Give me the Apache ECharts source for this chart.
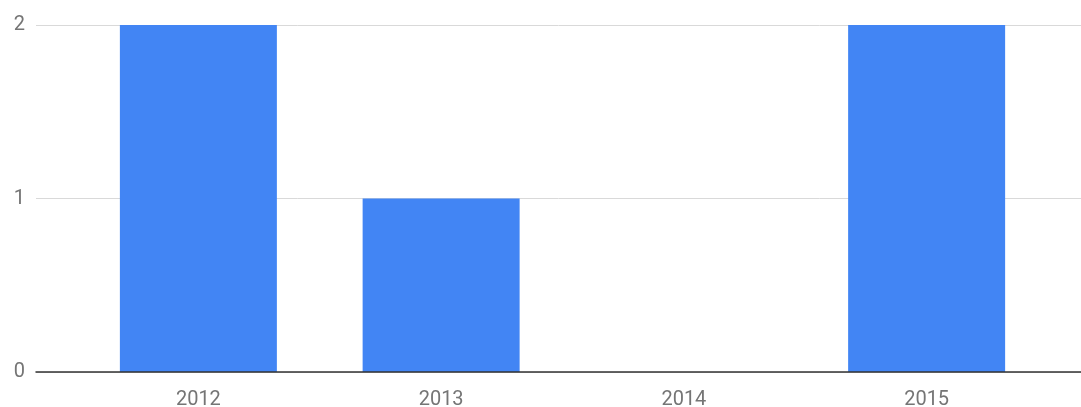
<!DOCTYPE html>
<html>
<head>
<meta charset="utf-8">
<style>
  html, body { margin: 0; padding: 0; background: #ffffff; }
  #chart { width: 1081px; height: 407px; }
</style>
<script src="https://cdn.jsdelivr.net/npm/echarts@6/dist/echarts.min.js"></script>
</head>
<body>
<div id="chart"></div>
<script>
// Yearly counts
const years = ['2012', '2013', '2014', '2015'];
const counts = [2, 1, 0, 2];
const yTicks = [0, 1, 2];

const chart = echarts.init(document.getElementById('chart'));
const fontFamily = 'Roboto, "Noto Sans", sans-serif';

chart.setOption({
  animation: false,
  grid: [
    // full-width frame: gridlines, value labels and baseline
    { left: 36, right: 0, top: 25, bottom: 35, outerBoundsMode: 'none', containLabel: false },
    // inset band area holding the bars
    { left: 77, right: 33, top: 25, bottom: 35, outerBoundsMode: 'none', containLabel: false }
  ],
  xAxis: [
    {
      gridIndex: 0,
      type: 'value',
      min: 0, max: 1,
      z: 5,
      axisLine: { show: true, onZero: false, lineStyle: { color: '#333333', width: 1.5 } },
      axisTick: { show: false },
      axisLabel: { show: false },
      splitLine: { show: false }
    },
    {
      gridIndex: 1,
      type: 'category',
      data: years,
      axisLine: { show: false },
      axisTick: { show: false },
      splitLine: { show: false },
      axisLabel: { color: '#757575', fontSize: 20, fontFamily: fontFamily, margin: 18 }
    }
  ],
  yAxis: [
    {
      gridIndex: 0,
      type: 'value',
      min: yTicks[0], max: yTicks[yTicks.length - 1], interval: 1,
      axisLine: { show: false },
      axisTick: { show: false },
      axisLabel: { color: '#757575', fontSize: 20, fontFamily: fontFamily, margin: 11,
                   customValues: yTicks },
      splitLine: { show: true, lineStyle: { color: '#d9d9d9', width: 1 } }
    },
    {
      gridIndex: 1,
      type: 'value',
      min: yTicks[0], max: yTicks[yTicks.length - 1], interval: 1,
      axisLine: { show: false },
      axisTick: { show: false },
      axisLabel: { show: false },
      splitLine: { show: false }
    }
  ],
  series: [
    {
      type: 'bar',
      xAxisIndex: 1,
      yAxisIndex: 1,
      data: counts,
      barWidth: 157,
      itemStyle: { color: '#4285f4', borderWidth: 0 }
    }
  ]
});
</script>
</body>
</html>
